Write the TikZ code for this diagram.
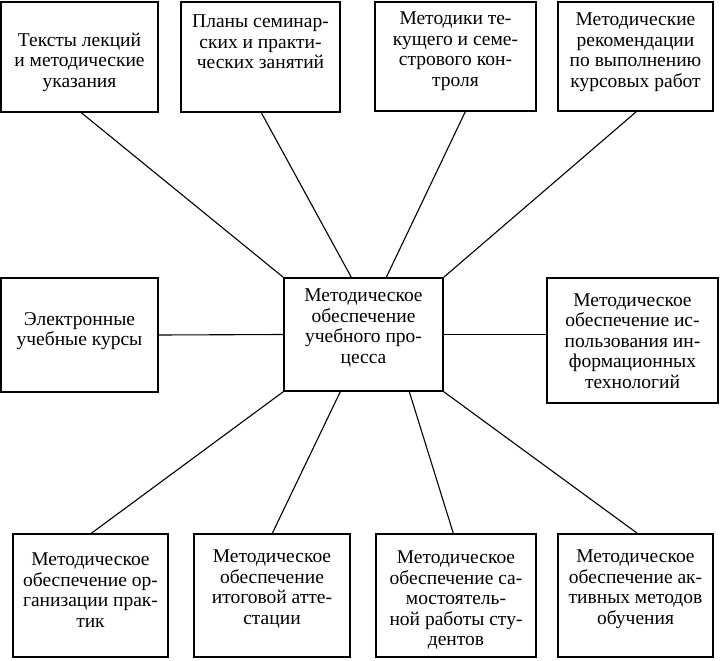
\documentclass[tikz,border=0pt]{standalone}
\usepackage{fontspec}
\setmainfont{Liberation Serif}
\usetikzlibrary{calc}
\begin{document}
\begin{tikzpicture}[x=1pt,y=-1pt,
  box/.style={draw=black,line width=1.4pt,minimum width=#1,inner sep=0pt},
  txt/.style={align=center,inner sep=0pt,font=\fontsize{19.5}{20.5}\selectfont},
  link/.style={draw=black,line width=1.1pt}]
\useasboundingbox (0,0) rectangle (720,661);
% top row
\node[box=157pt,minimum height=110pt] (T1) at (79.5,57) {};
\node[box=159pt,minimum height=110pt] (T2) at (260.5,57) {};
\node[box=161pt,minimum height=109pt] (T3) at (455.5,56.5) {};
\node[box=155pt,minimum height=109pt] (T4) at (635.5,56.5) {};
% middle row
\node[box=157pt,minimum height=114pt] (L) at (79.5,335) {};
\node[box=159pt,minimum height=113pt] (C) at (363.5,334.5) {};
\node[box=171pt,minimum height=125pt] (R) at (632.5,340.5) {};
% bottom row
\node[box=155pt,minimum height=123pt] (B1) at (90.5,595.5) {};
\node[box=156pt,minimum height=123pt] (B2) at (272,595.5) {};
\node[box=160pt,minimum height=123pt] (B3) at (456,595.5) {};
\node[box=155pt,minimum height=123pt] (B4) at (635.5,595.5) {};
% texts
\node[txt] (tT1) at (79.5,62) {Тексты лекций\\и методические\\указания};
\node[txt] (tT2) at (260.5,42) {Планы семинар-\\ских и практи-\\ческих занятий};
\node[txt] (tT3) at (455.5,51) {Методики те-\\кущего и семе-\\стрового кон-\\троля};
\node[txt] (tT4) at (635.5,52) {Методические\\рекомендации\\по выполнению\\курсовых работ};
\node[txt] (tL) at (79.5,331) {Электронные\\учебные курсы};
\node[txt] (tC) at (363.5,328) {Методическое\\обеспечение\\учебного про-\\цесса};
\node[txt] (tR) at (632.5,341) {Методическое\\обеспечение ис-\\пользования ин-\\формационных\\технологий};
\node[txt] (tB1) at (90.5,590) {Методическое\\обеспечение ор-\\ганизации прак-\\тик};
\node[txt] (tB2) at (272,589) {Методическое\\обеспечение\\итоговой атте-\\стации};
\node[txt] (tB3) at (456,600) {Методическое\\обеспечение са-\\мостоятель-\\ной работы сту-\\дентов};
\node[txt] (tB4) at (635.5,589) {Методическое\\обеспечение ак-\\тивных методов\\обучения};
% connectors
\draw[link] ($(T1.south west)+(81,0)$) -- (C.north west);
\draw[link] ($(T2.south west)+(81,0)$) -- ($(C.north west)+(68,0)$);
\draw[link] ($(T3.south west)+(91,0)$) -- ($(C.north west)+(103,0)$);
\draw[link] ($(T4.south west)+(79,0)$) -- (C.north east);
\draw[link] (L.east) -- (C.west);
\draw[link] (C.east) -- (C.east -| R.west);
\draw[link] (C.south west) -- ($(B1.north west)+(79,0)$);
\draw[link] ($(C.south west)+(57,0)$) -- ($(B2.north west)+(79,0)$);
\draw[link] ($(C.south west)+(126,0)$) -- ($(B3.north west)+(78,0)$);
\draw[link] (C.south east) -- ($(B4.north west)+(80,0)$);
\end{tikzpicture}
\end{document}
